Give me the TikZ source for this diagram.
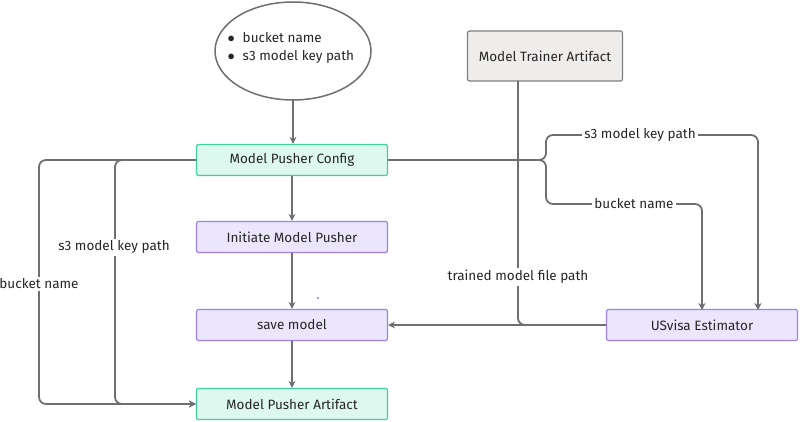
\documentclass[tikz,border=0pt]{standalone}
\usepackage{fontspec}
\setmainfont{Fira Sans}
\usetikzlibrary{shapes.geometric,arrows.meta}
\definecolor{lineg}{HTML}{6E6E73}
\definecolor{tealfill}{HTML}{DDF8EE}
\definecolor{tealdraw}{HTML}{3FCF9E}
\definecolor{purpfill}{HTML}{ECE6FD}
\definecolor{purpdraw}{HTML}{9C80F2}
\definecolor{greyfill}{HTML}{EFEDEB}
\definecolor{greydraw}{HTML}{7F7F7F}
\tikzset{
  every node/.style={font=\fontsize{13.5}{16}\selectfont, text=black!85},
  tealbox/.style={draw=tealdraw, fill=tealfill, line width=1.2pt, rounded corners=2pt, minimum width=191pt, minimum height=31pt},
  purpbox/.style={draw=purpdraw, fill=purpfill, line width=1.2pt, rounded corners=2pt, minimum width=191pt, minimum height=31pt},
  greybox/.style={draw=greydraw, fill=greyfill, line width=1.2pt, rounded corners=2pt, minimum width=155pt, minimum height=50pt},
  conn/.style={draw=lineg, line width=1.8pt, rounded corners=7pt},
  arr/.style={conn, -{Stealth[length=7pt,width=7pt]}},
  lbl/.style={fill=white, inner sep=2pt}
}
\begin{document}
\begin{tikzpicture}[x=1pt,y=-1pt]
\useasboundingbox (0,0) rectangle (800,422);
\node[ellipse, draw=lineg, line width=1.5pt, fill=white, minimum width=156pt, minimum height=98pt, inner sep=0pt] (ell) at (293,51) {};
\node[anchor=west, align=left] (b1) at (224,38) {$\bullet$\hspace{8pt}bucket name};
\node[anchor=west, align=left] (b2) at (224,57) {$\bullet$\hspace{8pt}s3 model key path};
\node[tealbox] (cfg) at (292,160) {Model Pusher Config};
\node[purpbox] (init) at (292,237) {Initiate Model Pusher};
\node[purpbox] (save) at (292,325) {save model};
\node[tealbox] (art) at (292,404) {Model Pusher Artifact};
\node[greybox] (trainer) at (545,56) {Model Trainer Artifact};
\node[purpbox] (est) at (702,325) {USvisa Estimator};
\fill[blue!80] (318,298) circle (0.9pt);

\coordinate (ellb) at (293,100);
\draw[arr] (ellb) -- (ellb |- cfg.north);
\draw[arr] (cfg.south) -- (init.north);
\draw[arr] (init.south) -- (save.north);
\draw[arr] (save.south) -- (art.north);

% trainer to save model
\coordinate (tb) at (518,81);
\draw[conn] (tb) -- (518,325) -- (est.west);
\draw[arr] (est.west) -- (save.east);
\node[lbl] (ltr) at (518,277) {trained model file path};

% config to estimator
\coordinate (e1) at (702,310);
\coordinate (e2) at (758,310);
\draw[conn] (cfg.east) -- (541,160);
\draw[arr] (541,160) -- (546,160) -- (546,135) -- (758,135) -- (e2);
\draw[arr] (541,160) -- (546,160) -- (546,204) -- (702,204) -- (e1);
\node[lbl] (ls3) at (640,135) {s3 model key path};
\node[lbl] (lbk) at (634,204) {bucket name};

% left loops
\draw[arr] (cfg.west) -- (39,160) -- (39,404) -- (art.west);
\draw[arr] (cfg.west) -- (115,160) -- (115,404) -- (art.west);
\node[lbl] (ls3l) at (114,247) {s3 model key path};
\node[lbl] (lbkl) at (39,284) {bucket name};
\end{tikzpicture}
\end{document}
